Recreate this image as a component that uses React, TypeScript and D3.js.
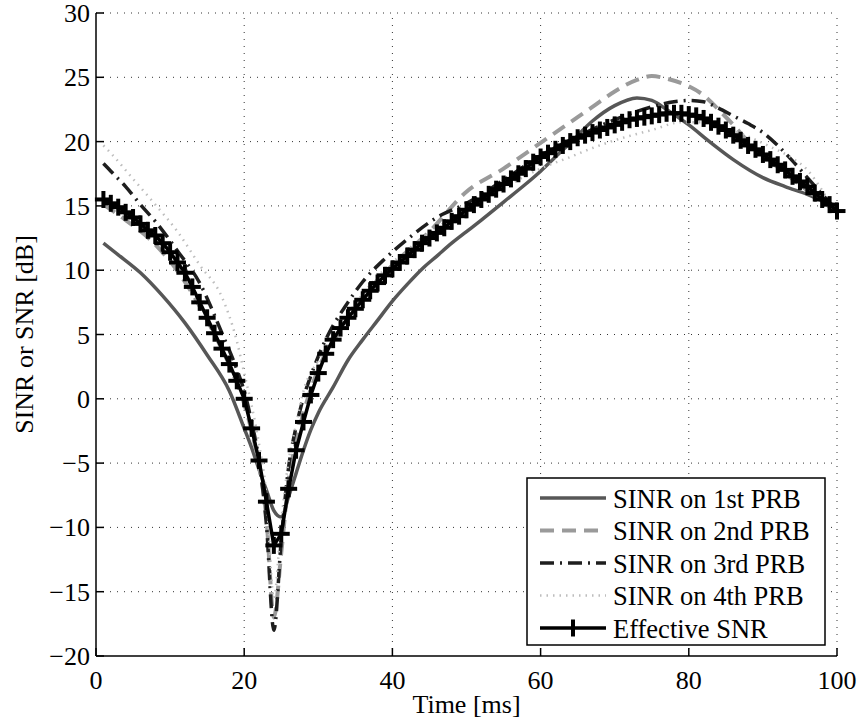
import React from 'react';
import * as d3 from 'd3';

const W = 858;
const H = 724;

const xTicks = [0, 20, 40, 60, 80, 100];
const yTicks = [-20, -15, -10, -5, 0, 5, 10, 15, 20, 25, 30];

// SINR on 1st PRB
const t1 = [1, 3, 6, 9, 12, 15, 18, 20, 21, 22, 23, 24, 25, 26, 27, 28, 29, 30, 32, 34, 36, 38, 40, 42, 44, 46, 48, 50, 52, 55, 58, 60, 62, 64, 67, 70, 73, 75, 77, 80, 83, 86, 90, 93, 96, 98, 100];
const v1 = [12.1, 11.2, 9.8, 8.0, 5.9, 3.4, 0.6, -2.3, -3.8, -5.5, -7.1, -8.7, -9.2, -7.6, -5.8, -4.0, -2.4, -1.1, 0.9, 3.0, 4.6, 6.1, 7.6, 8.9, 10.1, 11.1, 12.1, 13.0, 13.9, 15.3, 16.7, 17.7, 18.8, 19.9, 21.6, 22.8, 23.4, 23.2, 22.5, 21.3, 19.9, 18.6, 17.2, 16.5, 15.9, 15.4, 15.0];

// SINR on 2nd PRB
const t2 = [1, 4, 8, 12, 16, 18, 20, 21, 22, 23, 24, 25, 26, 27, 28, 30, 33, 36, 40, 45, 50, 55, 60, 63, 65, 67, 70, 73, 75, 77, 80, 82, 84, 86, 88, 92, 96, 100];
const v2 = [15.1, 13.9, 12.0, 9.1, 5.0, 2.6, -0.4, -2.5, -5.2, -9.3, -17.0, -12.0, -6.3, -3.4, -1.1, 2.3, 5.4, 7.9, 10.4, 13.0, 16.1, 17.9, 19.9, 21.1, 21.9, 22.7, 23.9, 24.8, 25.1, 24.9, 24.3, 23.6, 22.5, 21.3, 20.0, 18.0, 16.2, 14.5];

// SINR on 3rd PRB
const t3 = [1, 2, 4, 6, 8, 11, 14, 17, 19, 20, 21, 22, 23, 24, 25, 26, 27, 28, 29, 31, 34, 36, 39, 42, 46, 50, 55, 60, 65, 70, 75, 78, 80, 82, 84, 86, 88, 90, 92, 94, 96, 98, 100];
const v3 = [18.3, 17.7, 16.5, 15.1, 13.8, 11.5, 9.0, 5.1, 2.3, 0.6, -1.8, -4.8, -9.8, -18.0, -11.0, -5.3, -2.2, 0.1, 1.8, 4.6, 7.5, 9.1, 10.9, 12.4, 14.1, 15.2, 17.0, 18.9, 20.4, 21.7, 22.7, 23.1, 23.2, 23.1, 22.6, 22.0, 21.4, 20.7, 19.7, 18.5, 17.2, 15.9, 14.6];

// SINR on 4th PRB
const t4 = [1, 2, 5, 8, 11, 14, 17, 19, 20, 21, 22, 23, 24, 25, 26, 27, 28, 30, 32, 35, 38, 40, 45, 50, 55, 60, 64, 67, 70, 75, 79, 82, 85, 88, 91, 94, 96, 98, 100];
const v4 = [19.7, 19.1, 17.1, 15.1, 13.0, 10.4, 7.9, 4.5, 2.0, -0.5, -3.5, -7.5, -15.5, -9.5, -4.8, -2.0, 0.6, 3.0, 4.9, 7.4, 9.5, 10.6, 12.9, 14.8, 16.4, 17.9, 18.8, 19.5, 20.1, 20.9, 21.5, 21.5, 21.1, 20.4, 19.6, 18.7, 17.8, 16.2, 14.3];

// Effective SNR, one value per ms (1..100)
const effT = d3.range(1, 101);
const effV = [
  15.5, 15.2, 14.9, 14.5, 14.1, 13.6, 13.1, 12.7, 12.1, 11.4,
  10.6, 9.8, 8.7, 7.5, 6.3, 5.1, 3.9, 2.7, 1.4, 0.0,
  -2.3, -4.8, -8.0, -11.4, -10.5, -7.0, -4.0, -1.8, 0.3, 2.0,
  3.5, 4.6, 5.5, 6.3, 7.0, 7.7, 8.4, 9.0, 9.6, 10.1,
  10.6, 11.1, 11.6, 12.1, 12.5, 12.9, 13.3, 13.8, 14.2, 14.7,
  15.1, 15.5, 15.9, 16.3, 16.7, 17.1, 17.5, 17.9, 18.4, 18.8,
  19.1, 19.4, 19.7, 20.0, 20.3, 20.5, 20.7, 20.9, 21.1, 21.3,
  21.5, 21.7, 21.8, 21.9, 22.0, 22.1, 22.2, 22.2, 22.2, 22.1,
  22.0, 21.8, 21.5, 21.2, 20.9, 20.5, 20.1, 19.7, 19.4, 19.0,
  18.6, 18.2, 17.8, 17.3, 16.9, 16.5, 16.0, 15.5, 15.1, 14.6,
];

const legendLabels = ['SINR on 1st PRB', 'SINR on 2nd PRB', 'SINR on 3rd PRB', 'SINR on 4th PRB', 'Effective SNR'];

const FONT = '"Liberation Serif", "Times New Roman", serif';

type Style = { stroke: string; width: number; dash?: string };
const styles: Style[] = [
  { stroke: '#575757', width: 3.5 },
  { stroke: '#9a9a9a', width: 4, dash: '14,8' },
  { stroke: '#1e1e1e', width: 3.5, dash: '14,6,2,6' },
  { stroke: '#bdbdbd', width: 2.5, dash: '1.5,5' },
  { stroke: '#000000', width: 3.5 },
];

export default function App() {
  const x = d3.scaleLinear().domain([0, 100]).range([96, 837]);
  const y = d3.scaleLinear().domain([-20, 30]).range([656, 13]);

  const smooth = d3
    .line<[number, number]>()
    .x((d) => x(d[0]))
    .y((d) => y(d[1]))
    .curve(d3.curveMonotoneX);
  const straight = d3
    .line<[number, number]>()
    .x((d) => x(d[0]))
    .y((d) => y(d[1]));

  const zip = (t: number[], v: number[]) => t.map((tt, i) => [tt, v[i]] as [number, number]);
  const series = [zip(t1, v1), zip(t2, v2), zip(t3, v3), zip(t4, v4)];
  const eff = zip(effT, effV);

  const [x0, x1] = x.range();
  const [yb, yt] = y.range();
  const ms = 8.5;
  const mw = 4;

  const legX0 = 527, legX1 = 825, legY0 = 478, legY1 = 645;
  const rowY = (i: number) => 498 + i * 32.5;

  return (
    <div style={{ position: 'absolute', left: 0, top: 0 }}>
      <svg width={W} height={H} viewBox={`0 0 ${W} ${H}`} style={{ display: 'block', background: '#fff' }}>
        {/* grid */}
        <g stroke="#000" strokeWidth={1} strokeDasharray="1,6" opacity={0.8}>
          {xTicks.filter((t) => t !== 0).map((t) => (
            <line key={'gx' + t} x1={x(t)} x2={x(t)} y1={yb} y2={yt} />
          ))}
          {yTicks.filter((t) => t !== -20).map((t) => (
            <line key={'gy' + t} x1={x0} x2={x1} y1={y(t)} y2={y(t)} />
          ))}
        </g>

        {/* curves */}
        <g fill="none" strokeLinejoin="round">
          {series.map((s, i) => (
            <path
              key={'s' + i}
              d={smooth(s) || ''}
              stroke={styles[i].stroke}
              strokeWidth={styles[i].width}
              strokeDasharray={styles[i].dash}
            />
          ))}
          <path d={straight(eff) || ''} stroke="#000" strokeWidth={3.5} />
          {eff.map((d, i) => (
            <g key={'m' + i} stroke="#000" strokeWidth={mw}>
              <line x1={x(d[0]) - ms} x2={x(d[0]) + ms} y1={y(d[1])} y2={y(d[1])} />
              <line x1={x(d[0])} x2={x(d[0])} y1={y(d[1]) - ms} y2={y(d[1]) + ms} />
            </g>
          ))}
        </g>

        {/* axes */}
        <g stroke="#000" strokeWidth={1.5} fill="none">
          <line x1={x0} x2={x1} y1={yb} y2={yb} />
          <line x1={x0} x2={x0} y1={yb} y2={yt} />
          {xTicks.map((t) => (
            <line key={'tx' + t} x1={x(t)} x2={x(t)} y1={yb} y2={yb - 8} />
          ))}
          {yTicks.map((t) => (
            <line key={'ty' + t} x1={x0} x2={x0 + 8} y1={y(t)} y2={y(t)} />
          ))}
        </g>
        <g fontFamily={FONT} fontSize={26} fill="#000">
          {xTicks.map((t) => (
            <text key={'lx' + t} x={x(t)} y={689} textAnchor="middle">
              {String(t)}
            </text>
          ))}
          {yTicks.map((t) => (
            <text key={'ly' + t} x={90} y={y(t) + 9} textAnchor="end">
              {t < 0 ? '\u2212' + Math.abs(t) : String(t)}
            </text>
          ))}
          <text x={(x0 + x1) / 2} y={713} textAnchor="middle">
            Time [ms]
          </text>
          <text transform={`translate(33, ${(yb + yt) / 2}) rotate(-90)`} textAnchor="middle">
            SINR or SNR [dB]
          </text>
        </g>

        {/* legend */}
        <g>
          <rect x={legX0} y={legY0} width={legX1 - legX0} height={legY1 - legY0} fill="#fff" stroke="#000" strokeWidth={1.5} />
          {legendLabels.map((lab, i) => {
            const st = styles[i];
            const cy = rowY(i);
            return (
              <g key={'lg' + i}>
                <line
                  x1={540}
                  x2={606}
                  y1={cy}
                  y2={cy}
                  stroke={st.stroke}
                  strokeWidth={st.width}
                  strokeDasharray={st.dash}
                />
                {i === 4 && (
                  <line x1={573} x2={573} y1={cy - ms} y2={cy + ms} stroke="#000" strokeWidth={mw} />
                )}
                <text x={613} y={cy + 9.5} fontFamily={FONT} fontSize={26.5} fill="#000">
                  {lab}
                </text>
              </g>
            );
          })}
        </g>
      </svg>
    </div>
  );
}
